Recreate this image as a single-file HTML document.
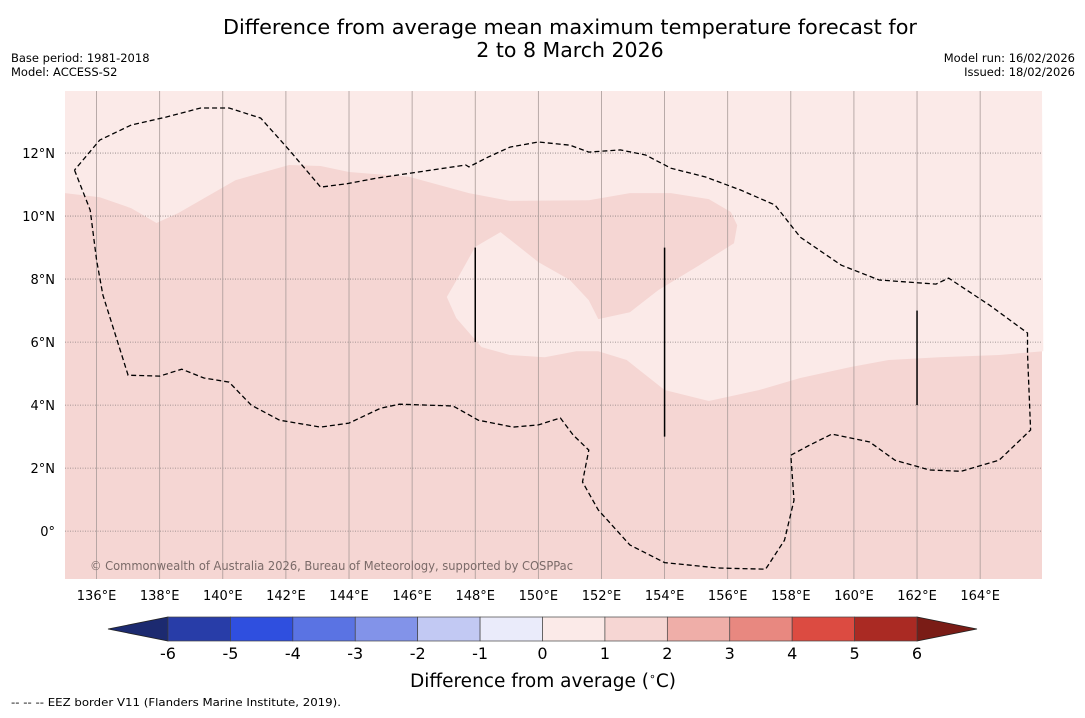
<!DOCTYPE html>
<html><head><meta charset="utf-8">
<style>
body{margin:0;background:#fff;width:1085px;height:713px;overflow:hidden;font-family:"Liberation Sans","DejaVu Sans",sans-serif;}
svg text{font-family:"DejaVu Sans","Liberation Sans",sans-serif;}
</style></head>
<body>
<svg id="chart" width="1085" height="713" xmlns="http://www.w3.org/2000/svg">
<text x="570" y="34" font-size="20.5" text-anchor="middle" fill="#000" textLength="694" lengthAdjust="spacingAndGlyphs">Difference from average mean maximum temperature forecast for</text>
<text x="570" y="57" font-size="20.5" text-anchor="middle" fill="#000">2 to 8 March 2026</text>
<text x="11" y="62" font-size="11.5">Base period: 1981-2018</text>
<text x="11" y="76" font-size="11.5">Model: ACCESS-S2</text>
<text x="1075" y="62" font-size="11.5" text-anchor="end">Model run: 16/02/2026</text>
<text x="1075" y="76" font-size="11.5" text-anchor="end">Issued: 18/02/2026</text>
<g id="map"></g>
<g id="cbar"></g>
<text x="543" y="687" font-size="18.5" text-anchor="middle">Difference from average (<tspan font-size="11" dy="-7">∘</tspan><tspan dy="7">C)</tspan></text>
<text x="11" y="706" font-size="11" textLength="330" lengthAdjust="spacingAndGlyphs">--  --  -- EEZ border V11 (Flanders Marine Institute, 2019).</text>
</svg>
<script>
const lonTicks=[136,138,140,142,144,146,148,150,152,154,156,158,160,162,164];
const latTicks=[0,2,4,6,8,10,12];
const lightLon=[135.0,136.1,137.1,137.9,138.6,140.4,142.1,143.1,144.0,145.9,147.8,149.1,151.6,152.9,154.2,155.4,156.1,156.3,156.2,155.1,153.8,152.9,151.9,151.6,151.0,150.0,148.8,148.0,147.5,147.1,147.4,148.2,149.1,150.2,151.2,151.9,152.8,154.0,155.4,157.0,158.3,159.9,161.1,162.7,164.6,166.0];
const lightLat=[10.73,10.6,10.25,9.78,10.1,11.14,11.62,11.59,11.4,11.25,10.73,10.48,10.5,10.73,10.73,10.54,10.13,9.71,9.14,8.44,7.65,6.95,6.73,7.33,7.97,8.54,9.49,9.02,8.13,7.43,6.76,5.84,5.59,5.52,5.71,5.71,5.43,4.48,4.13,4.48,4.86,5.21,5.43,5.52,5.59,5.71];
const eezLon=[135.3,135.8,136.0,136.2,137.0,138.0,138.7,139.4,140.2,140.9,141.8,143.1,144.0,145.0,145.6,147.3,148.1,149.2,150.0,150.7,151.1,151.6,151.4,151.9,152.9,154.0,155.7,157.2,157.8,158.1,158.0,158.6,159.3,160.5,161.3,162.4,163.4,164.6,165.6,165.5,165.5,164.3,163.0,162.6,160.8,159.6,158.3,157.5,156.4,155.3,154.2,153.4,152.6,151.6,151.0,150.0,149.1,148.4,147.8,147.7,146.2,144.9,143.9,143.1,142.1,141.2,140.2,139.3,138.2,137.1,136.1,135.3];
const eezLat=[11.46,10.19,8.6,7.49,4.95,4.92,5.14,4.86,4.73,4.0,3.52,3.3,3.43,3.9,4.03,3.97,3.52,3.3,3.37,3.59,3.05,2.57,1.56,0.67,-0.44,-1.0,-1.17,-1.21,-0.29,0.98,2.41,2.73,3.08,2.83,2.25,1.94,1.9,2.25,3.21,5.65,6.29,7.17,8.03,7.84,7.97,8.44,9.33,10.35,10.83,11.24,11.52,11.94,12.1,12.03,12.25,12.35,12.19,11.87,11.56,11.62,11.4,11.21,11.02,10.92,12.1,13.11,13.43,13.43,13.14,12.89,12.41,11.46];
const segLon=[148,154,162];
const segLat0=[9,9,7];
const segLat1=[6,3,4];
const cbLevels=[-6,-5,-4,-3,-2,-1,0,1,2,3,4,5,6];
const cbColors=["#283da8","#2f4fdf","#5a73e3","#8293e9","#c2c9f3","#eaebfa","#fbeae8","#f6d6d3","#efaea8","#e88880","#dc4b41","#aa2a23"];
const cbUnder="#1c2a70", cbOver="#7a1c16";

const NS="http://www.w3.org/2000/svg";
const X0=65,X1=1042,Y0=91,Y1=579;
const LON0=135,LON1=165.96,LAT0=-1.52,LAT1=13.97;
const xs=lon=>X0+(lon-LON0)/(LON1-LON0)*(X1-X0);
const ys=lat=>Y1-(lat-LAT0)/(LAT1-LAT0)*(Y1-Y0);
function mk(tag,attrs,parent){const e=document.createElementNS(NS,tag);for(const k in attrs)e.setAttribute(k,attrs[k]);parent.appendChild(e);return e;}
const map=document.getElementById('map');
const bg=mk('rect',{x:X0,y:Y0,width:X1-X0,height:Y1-Y0,fill:'#f5d6d3'},map);


let d='M'+X0+','+Y0;
lightLon.forEach((l,i)=>{d+=' L'+xs(l).toFixed(1)+','+ys(lightLat[i]).toFixed(1);});
d+=' L'+X1+','+Y0+' Z';
const lp=mk('path',{d:d,fill:'#fbeae8'},map);


lonTicks.forEach(l=>{
  const g=mk('line',{x1:xs(l),x2:xs(l),y1:Y0,y2:Y1,stroke:'#a89a98','stroke-width':0.8},map);
  
  
  const t=mk('text',{x:xs(l),y:600,'font-size':13,'text-anchor':'middle'},map);
  t.textContent=l+'°E';
  
  
});
latTicks.forEach(l=>{
  const g=mk('line',{x1:X0,x2:X1,y1:ys(l),y2:ys(l),stroke:'#8a8080','stroke-width':0.8,'stroke-dasharray':'1,1.5'},map);
  
  
  const t=mk('text',{x:55,y:ys(l)+5,'font-size':13,'text-anchor':'end'},map);
  t.textContent=(l===0?'0°':l+'°N');
  
  
});
let e='';
eezLon.forEach((l,i)=>{e+=(i?' L':'M')+xs(l).toFixed(1)+','+ys(eezLat[i]).toFixed(1);});
const ep=mk('path',{d:e,fill:'none',stroke:'#000','stroke-width':1.3,'stroke-dasharray':'5,3'},map);


segLon.forEach((l,i)=>{
  const s=mk('line',{x1:xs(l),x2:xs(l),y1:ys(segLat0[i]),y2:ys(segLat1[i]),stroke:'#000','stroke-width':1.5},map);
  
  
});
const cr=mk('text',{x:90,y:570,'font-size':12,fill:'#7a6a68',textLength:483,lengthAdjust:'spacingAndGlyphs'},map);
cr.textContent='© Commonwealth of Australia 2026, Bureau of Meteorology, supported by COSPPac';



const cb=document.getElementById('cbar');
const CX0=168,CX1=917,CY0=617,CY1=641;
const cx=v=>CX0+(v-cbLevels[0])/(cbLevels[cbLevels.length-1]-cbLevels[0])*(CX1-CX0);
const under=mk('polygon',{points:`${CX0},${CY0} ${CX0},${CY1} 108,629`,fill:cbUnder,stroke:'#222','stroke-width':0.8},cb);


const over=mk('polygon',{points:`${CX1},${CY0} ${CX1},${CY1} 977,629`,fill:cbOver,stroke:'#222','stroke-width':0.8},cb);


cbColors.forEach((c,i)=>{
  const r=mk('rect',{x:cx(cbLevels[i]),y:CY0,width:cx(cbLevels[i+1])-cx(cbLevels[i]),height:CY1-CY0,fill:c,stroke:'#444','stroke-width':0.7},cb);
  
  
});
cbLevels.forEach(v=>{
  const t=mk('text',{x:cx(v),y:659,'font-size':16,'text-anchor':'middle'},cb);
  t.textContent=v;
  
  
});
</script>
</body></html>
